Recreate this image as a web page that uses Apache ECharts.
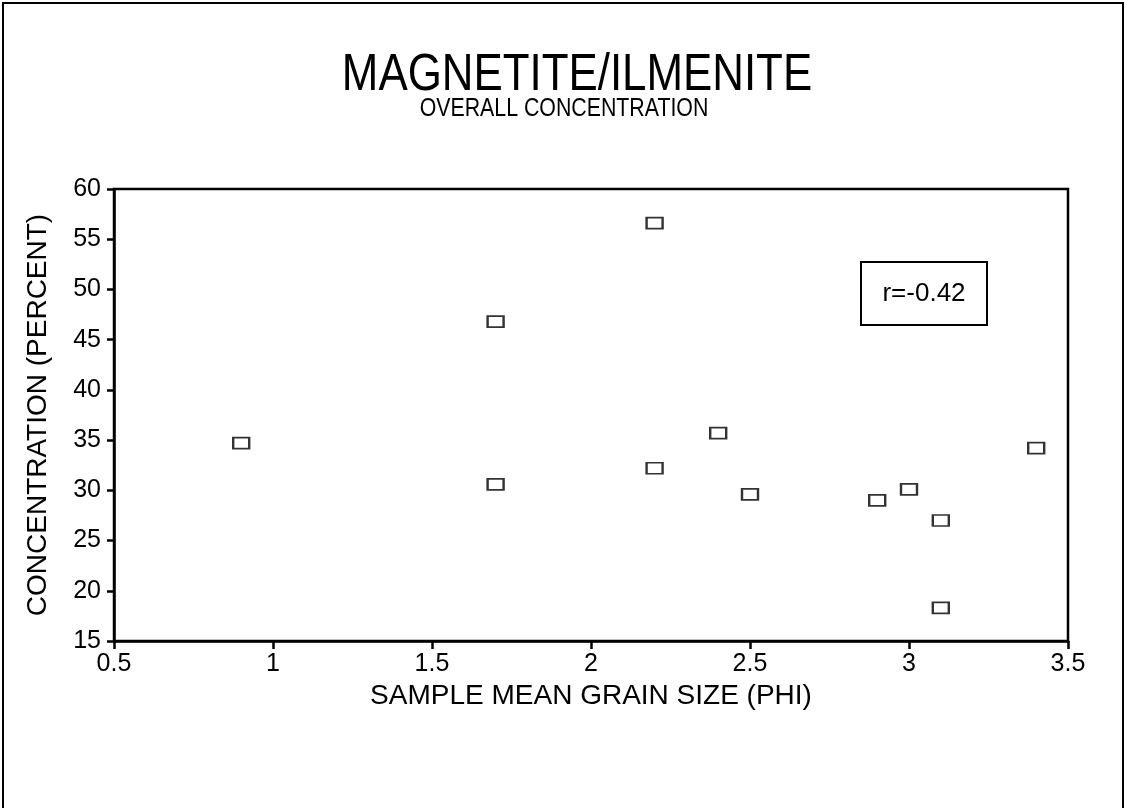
<!DOCTYPE html>
<html>
<head>
<meta charset="utf-8">
<script src="https://cdn.jsdelivr.net/npm/echarts@6/dist/echarts.min.js"></script>
<style>
  html, body { margin: 0; padding: 0; background: #fff; }
  #grafico { width: 1126px; height: 808px; }
</style>
</head>
<body>
<div id="grafico"></div>
<script>
// Datos
var tamanoGrano = [0.9, 1.7, 1.7, 2.2, 2.2, 2.4, 2.5, 2.9, 3.0, 3.1, 3.1, 3.4];
var concentracion = [34.7, 46.8, 30.6, 56.6, 32.2, 35.7, 29.6, 29.0, 30.1, 27.0, 18.3, 34.2];
var titulo = 'MAGNETITE/ILMENITE';
var subtitulo = 'OVERALL CONCENTRATION';
var textoR = 'r=-0.42';

var puntos = tamanoGrano.map(function (x, i) { return [x, concentracion[i]]; });
var fuente = 'Liberation Sans, Arial, Helvetica, sans-serif';

var grafico = echarts.init(document.getElementById('grafico'));

var opciones = {
    backgroundColor: '#fff',
    animation: false,
    grid: {
        left: 114, right: 58, top: 189, bottom: 167,
        show: true, borderColor: '#000', borderWidth: 2.5
    },
    xAxis: {
        type: 'value', min: 0.5, max: 3.5, interval: 0.5,
        name: 'SAMPLE MEAN GRAIN SIZE (PHI)', nameLocation: 'middle', nameGap: 37,
        nameTextStyle: { color: '#000', fontSize: 28, fontFamily: fuente },
        axisLine: { lineStyle: { color: '#000', width: 2.5 } },
        axisTick: { length: 8, lineStyle: { color: '#000', width: 2.5 } },
        axisLabel: { color: '#000', fontSize: 25, fontFamily: fuente, margin: 11 },
        splitLine: { show: false }
    },
    yAxis: {
        type: 'value', min: 15, max: 60, interval: 5,
        name: 'CONCENTRATION (PERCENT)', nameLocation: 'middle', nameGap: 62,
        nameTextStyle: { color: '#000', fontSize: 28, fontFamily: fuente },
        axisLine: { lineStyle: { color: '#000', width: 2.5 } },
        axisTick: { length: 7, lineStyle: { color: '#000', width: 2.5 } },
        axisLabel: { color: '#000', fontSize: 25, fontFamily: fuente, margin: 13 },
        splitLine: { show: false }
    },
    series: [{
        type: 'scatter',
        data: puntos,
        symbol: 'rect',
        symbolSize: [16, 11],
        itemStyle: { color: '#fff', borderColor: '#000', borderWidth: 2 }
    }],
    graphic: [
        // marco exterior
        { type: 'rect', shape: { x: 3, y: 3, width: 1120, height: 830 },
          style: { fill: null, stroke: '#000', lineWidth: 2 } },
        { type: 'text', x: 577, y: 50, scaleX: 0.86,
          style: { text: titulo, fill: '#000', font: '51px ' + fuente, textAlign: 'center' } },
        { type: 'text', x: 564, y: 96, scaleX: 0.82,
          style: { text: subtitulo, fill: '#000', font: '26px ' + fuente, textAlign: 'center' } },
        // cuadro del coeficiente r
        { type: 'rect', shape: { x: 861, y: 262, width: 126, height: 63 },
          style: { fill: '#fff', stroke: '#000', lineWidth: 2 } },
        { type: 'text', x: 924, y: 294,
          style: { text: textoR, fill: '#000', font: '26px ' + fuente, textAlign: 'center', textVerticalAlign: 'middle' } }
    ]
};

grafico.setOption(opciones);
</script>
</body>
</html>
